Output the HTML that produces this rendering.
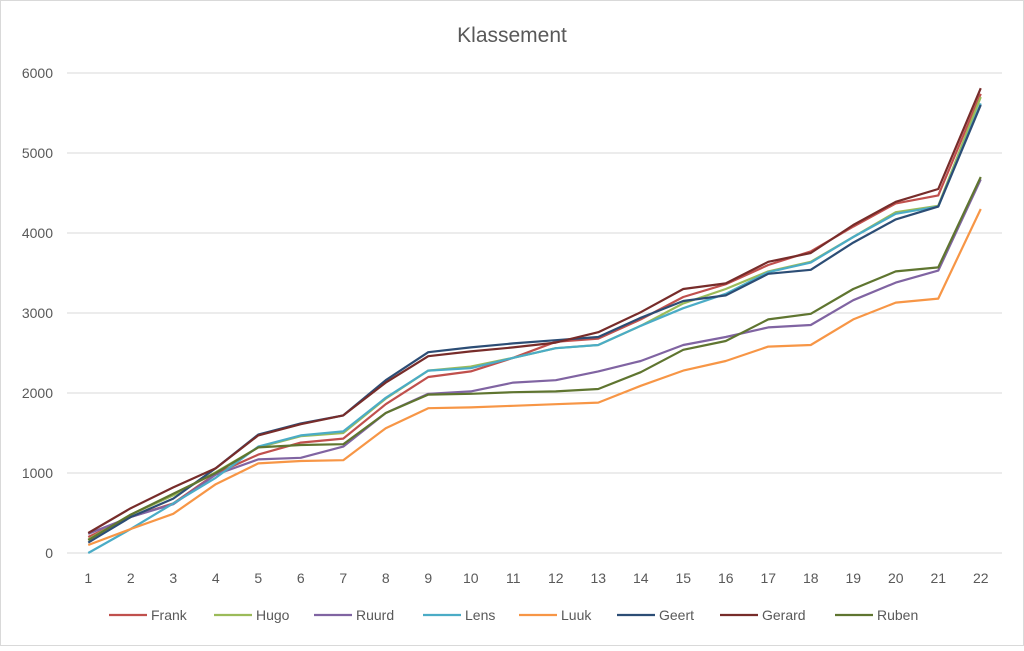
<!DOCTYPE html>
<html><head><meta charset="utf-8"><style>
body{margin:0;background:#fff;font-family:"Liberation Sans",sans-serif}
svg text{font-family:"Liberation Sans",sans-serif;fill:#595959}
</style></head><body>
<svg id="chart" width="1024" height="646" xmlns="http://www.w3.org/2000/svg">
<rect x="0.5" y="0.5" width="1023" height="645" fill="#fff" stroke="#d9d9d9"/>
<text x="512" y="42" text-anchor="middle" font-size="21">Klassement</text>
<g id="grid"></g><g id="axes"></g><g id="series"></g><g id="legend"></g>
</svg>
<script>
const categories=["1","2","3","4","5","6","7","8","9","10","11","12","13","14","15","16","17","18","19","20","21","22"];
const yTicks=[0,1000,2000,3000,4000,5000,6000];
const seriesNames=["Frank","Hugo","Ruurd","Lens","Luuk","Geert","Gerard","Ruben"];
const seriesColors=["#C0504D","#9BBB59","#8064A2","#4BACC6","#F79646","#2C4D75","#772C2A","#5F7530"];
const frank=[200,450,620,990,1230,1380,1430,1860,2200,2270,2440,2640,2680,2920,3200,3360,3600,3770,4080,4370,4470,5740];
const hugo=[170,480,720,1010,1320,1460,1500,1930,2280,2330,2440,2560,2600,2840,3120,3300,3520,3640,3950,4260,4340,5700];
const ruurd=[240,450,610,980,1170,1190,1330,1750,1990,2020,2130,2160,2270,2400,2600,2700,2820,2850,3160,3380,3530,4670];
const lens=[0,300,620,940,1330,1470,1520,1940,2280,2310,2440,2560,2600,2840,3060,3240,3510,3630,3950,4240,4330,5620];
const luuk=[100,300,490,860,1120,1150,1160,1560,1810,1820,1840,1860,1880,2090,2280,2400,2580,2600,2920,3130,3180,4300];
const geert=[130,450,680,1060,1480,1620,1720,2160,2510,2570,2620,2660,2700,2940,3150,3220,3490,3540,3880,4170,4330,5600];
const gerard=[250,560,820,1060,1470,1610,1720,2130,2460,2520,2570,2630,2760,3010,3300,3370,3640,3750,4100,4390,4550,5810];
const ruben=[160,480,740,1000,1320,1350,1360,1750,1980,1990,2010,2020,2050,2260,2540,2650,2920,2990,3300,3520,3570,4700];
const seriesValues=[frank,hugo,ruurd,lens,luuk,geert,gerard,ruben];
const NS="http://www.w3.org/2000/svg";
const L=67,R=1002,T=73,B=553;
const step=(R-L)/categories.length;
const xs=i=>L+step*(i+0.5);
const ys=v=>B-(v/6000)*(B-T);
const legendX=[109,214,314,423,519,617,720,835];
function mk(tag,attrs,parent){const e=document.createElementNS(NS,tag);for(const k in attrs)e.setAttribute(k,attrs[k]);parent.appendChild(e);return e;}
const grid=document.getElementById('grid'),axes=document.getElementById('axes'),ser=document.getElementById('series'),leg=document.getElementById('legend');
yTicks.forEach(t=>{
 const ln=mk('line',{x1:L,x2:R,y1:ys(t),y2:ys(t),stroke:'#d9d9d9','stroke-width':1},grid);
 
 
 const tx=mk('text',{x:53,y:ys(t)+5,'text-anchor':'end','font-size':14},axes);
 tx.textContent=t;
 
 
});
categories.forEach((c,i)=>{
 const tx=mk('text',{x:xs(i),y:583,'text-anchor':'middle','font-size':14},axes);
 tx.textContent=c;
 
 
});
seriesValues.forEach((vals,s)=>{
 const p=mk('polyline',{points:vals.map((v,i)=>xs(i)+','+ys(v)).join(' '),fill:'none',stroke:seriesColors[s],'stroke-width':2.2,'stroke-linejoin':'round'},ser);
 
 
 const lx=legendX[s];
 const g=mk('g',{},leg);
 
 
 mk('line',{x1:lx,x2:lx+38,y1:615,y2:615,stroke:seriesColors[s],'stroke-width':2.2},g);
 const t=mk('text',{x:lx+42,y:620,'font-size':14},g);
 t.textContent=seriesNames[s];
});
</script>
</body></html>
